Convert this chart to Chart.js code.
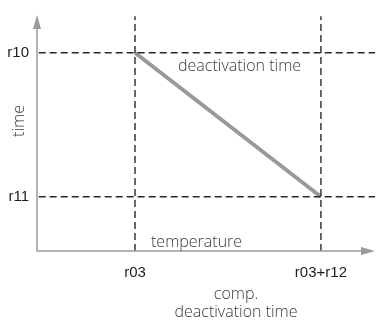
<!DOCTYPE html>
<html>
<head>
<meta charset="utf-8">
<script src="https://cdn.jsdelivr.net/npm/chart.js@4/dist/chart.umd.min.js"></script>
<style>
  html, body { margin: 0; padding: 0; background: #fff; }
  #wrap { width: 379px; height: 320px; position: relative; }
</style>
</head>
<body>
<div id="wrap"><canvas id="chart"></canvas></div>
<script>
/* ── data ────────────────────────────────────────────────────── */
const xTicks  = [29, 84];              // r03, r03+r12
const xLabels = ["r03", "r03+r12"];
const yTicks  = [84, 23];              // r10, r11
const yLabels = ["r10", "r11"];
const rampX   = [29, 84];              // deactivation time ramp
const rampY   = [84, 23];

const X_MAX = 100;
const Y_MAX = 100;

const dashColor = "#2a2a2a";
const axisColor = "#9a9a9a";
const rampColor = "#999999";

/* ── datasets: ramp + dashed guide lines ─────────────────────── */
const guides = [];
xTicks.forEach(v => guides.push([{ x: v, y: 0 }, { x: v, y: Y_MAX - 0.5 }]));
yTicks.forEach(v => guides.push([{ x: 0.5, y: v }, { x: X_MAX, y: v }]));

const datasets = guides.map(pts => ({
    data: pts,
    borderColor: dashColor,
    borderWidth: 1.4,
    borderDash: [7, 4],
    pointRadius: 0,
    showLine: true
}));

datasets.push({
    data: rampX.map((x, i) => ({ x, y: rampY[i] })),
    borderColor: rampColor,
    borderWidth: 4,
    borderCapStyle: "butt",
    pointRadius: 0,
    showLine: true
});

/* ── axes, arrows and labels drawn on top ────────────────────── */
const axesPlugin = {
    id: "arrowAxes",
    afterDatasetsDraw(chart) {
        const { ctx, scales: { x, y } } = chart;
        const x0 = x.getPixelForValue(0), x1 = x.getPixelForValue(X_MAX);
        const y0 = y.getPixelForValue(0), y1 = y.getPixelForValue(Y_MAX);

        ctx.save();
        ctx.strokeStyle = axisColor;
        ctx.fillStyle = axisColor;
        ctx.lineWidth = 1.5;
        ctx.beginPath();
        ctx.moveTo(x0, y1 + 8);
        ctx.lineTo(x0, y0);
        ctx.lineTo(x1 - 10, y0);
        ctx.stroke();

        // arrow heads
        ctx.beginPath();
        ctx.moveTo(x0, y1);
        ctx.lineTo(x0 - 4, y1 + 14);
        ctx.lineTo(x0 + 4, y1 + 14);
        ctx.closePath();
        ctx.fill();
        ctx.beginPath();
        ctx.moveTo(x1, y0);
        ctx.lineTo(x1 - 14, y0 - 4);
        ctx.lineTo(x1 - 14, y0 + 4);
        ctx.closePath();
        ctx.fill();

        // tick labels
        ctx.fillStyle = "#1e1e1e";
        ctx.font = "15px 'Liberation Sans', Arial, sans-serif";
        ctx.textBaseline = "middle";
        ctx.textAlign = "right";
        yTicks.forEach((v, i) => ctx.fillText(yLabels[i], x0 - 8, y.getPixelForValue(v)));
        ctx.textAlign = "center";
        xTicks.forEach((v, i) => ctx.fillText(xLabels[i], x.getPixelForValue(v), y0 + 22));

        // descriptive texts
        ctx.fillStyle = "#3a3a3a";
        ctx.font = "300 16px 'Open Sans', sans-serif";
        ctx.textAlign = "left";
        ctx.fillText("deactivation time", x.getPixelForValue(rampX[0]) + 43, y.getPixelForValue(yTicks[0]) + 14);
        ctx.fillText("temperature", x.getPixelForValue(xTicks[0]) + 16, y0 - 9);
        ctx.textAlign = "center";
        ctx.fillText("comp.", 236, y0 + 43);
        ctx.fillText("deactivation time", 236, y0 + 61);

        ctx.translate(19, 121);
        ctx.rotate(-Math.PI / 2);
        ctx.fillText("time", 0, 0);
        ctx.restore();
    }
};

new Chart(document.getElementById("chart"), {
    type: "scatter",
    data: { datasets },
    options: {
        responsive: true,
        maintainAspectRatio: false,
        animation: false,
        layout: { padding: { left: 37, right: 4, top: 15, bottom: 69 } },
        plugins: { legend: { display: false }, tooltip: { enabled: false } },
        scales: {
            x: { type: "linear", min: 0, max: X_MAX, display: false },
            y: { type: "linear", min: 0, max: Y_MAX, display: false }
        }
    },
    plugins: [axesPlugin]
});
</script>
</body>
</html>
